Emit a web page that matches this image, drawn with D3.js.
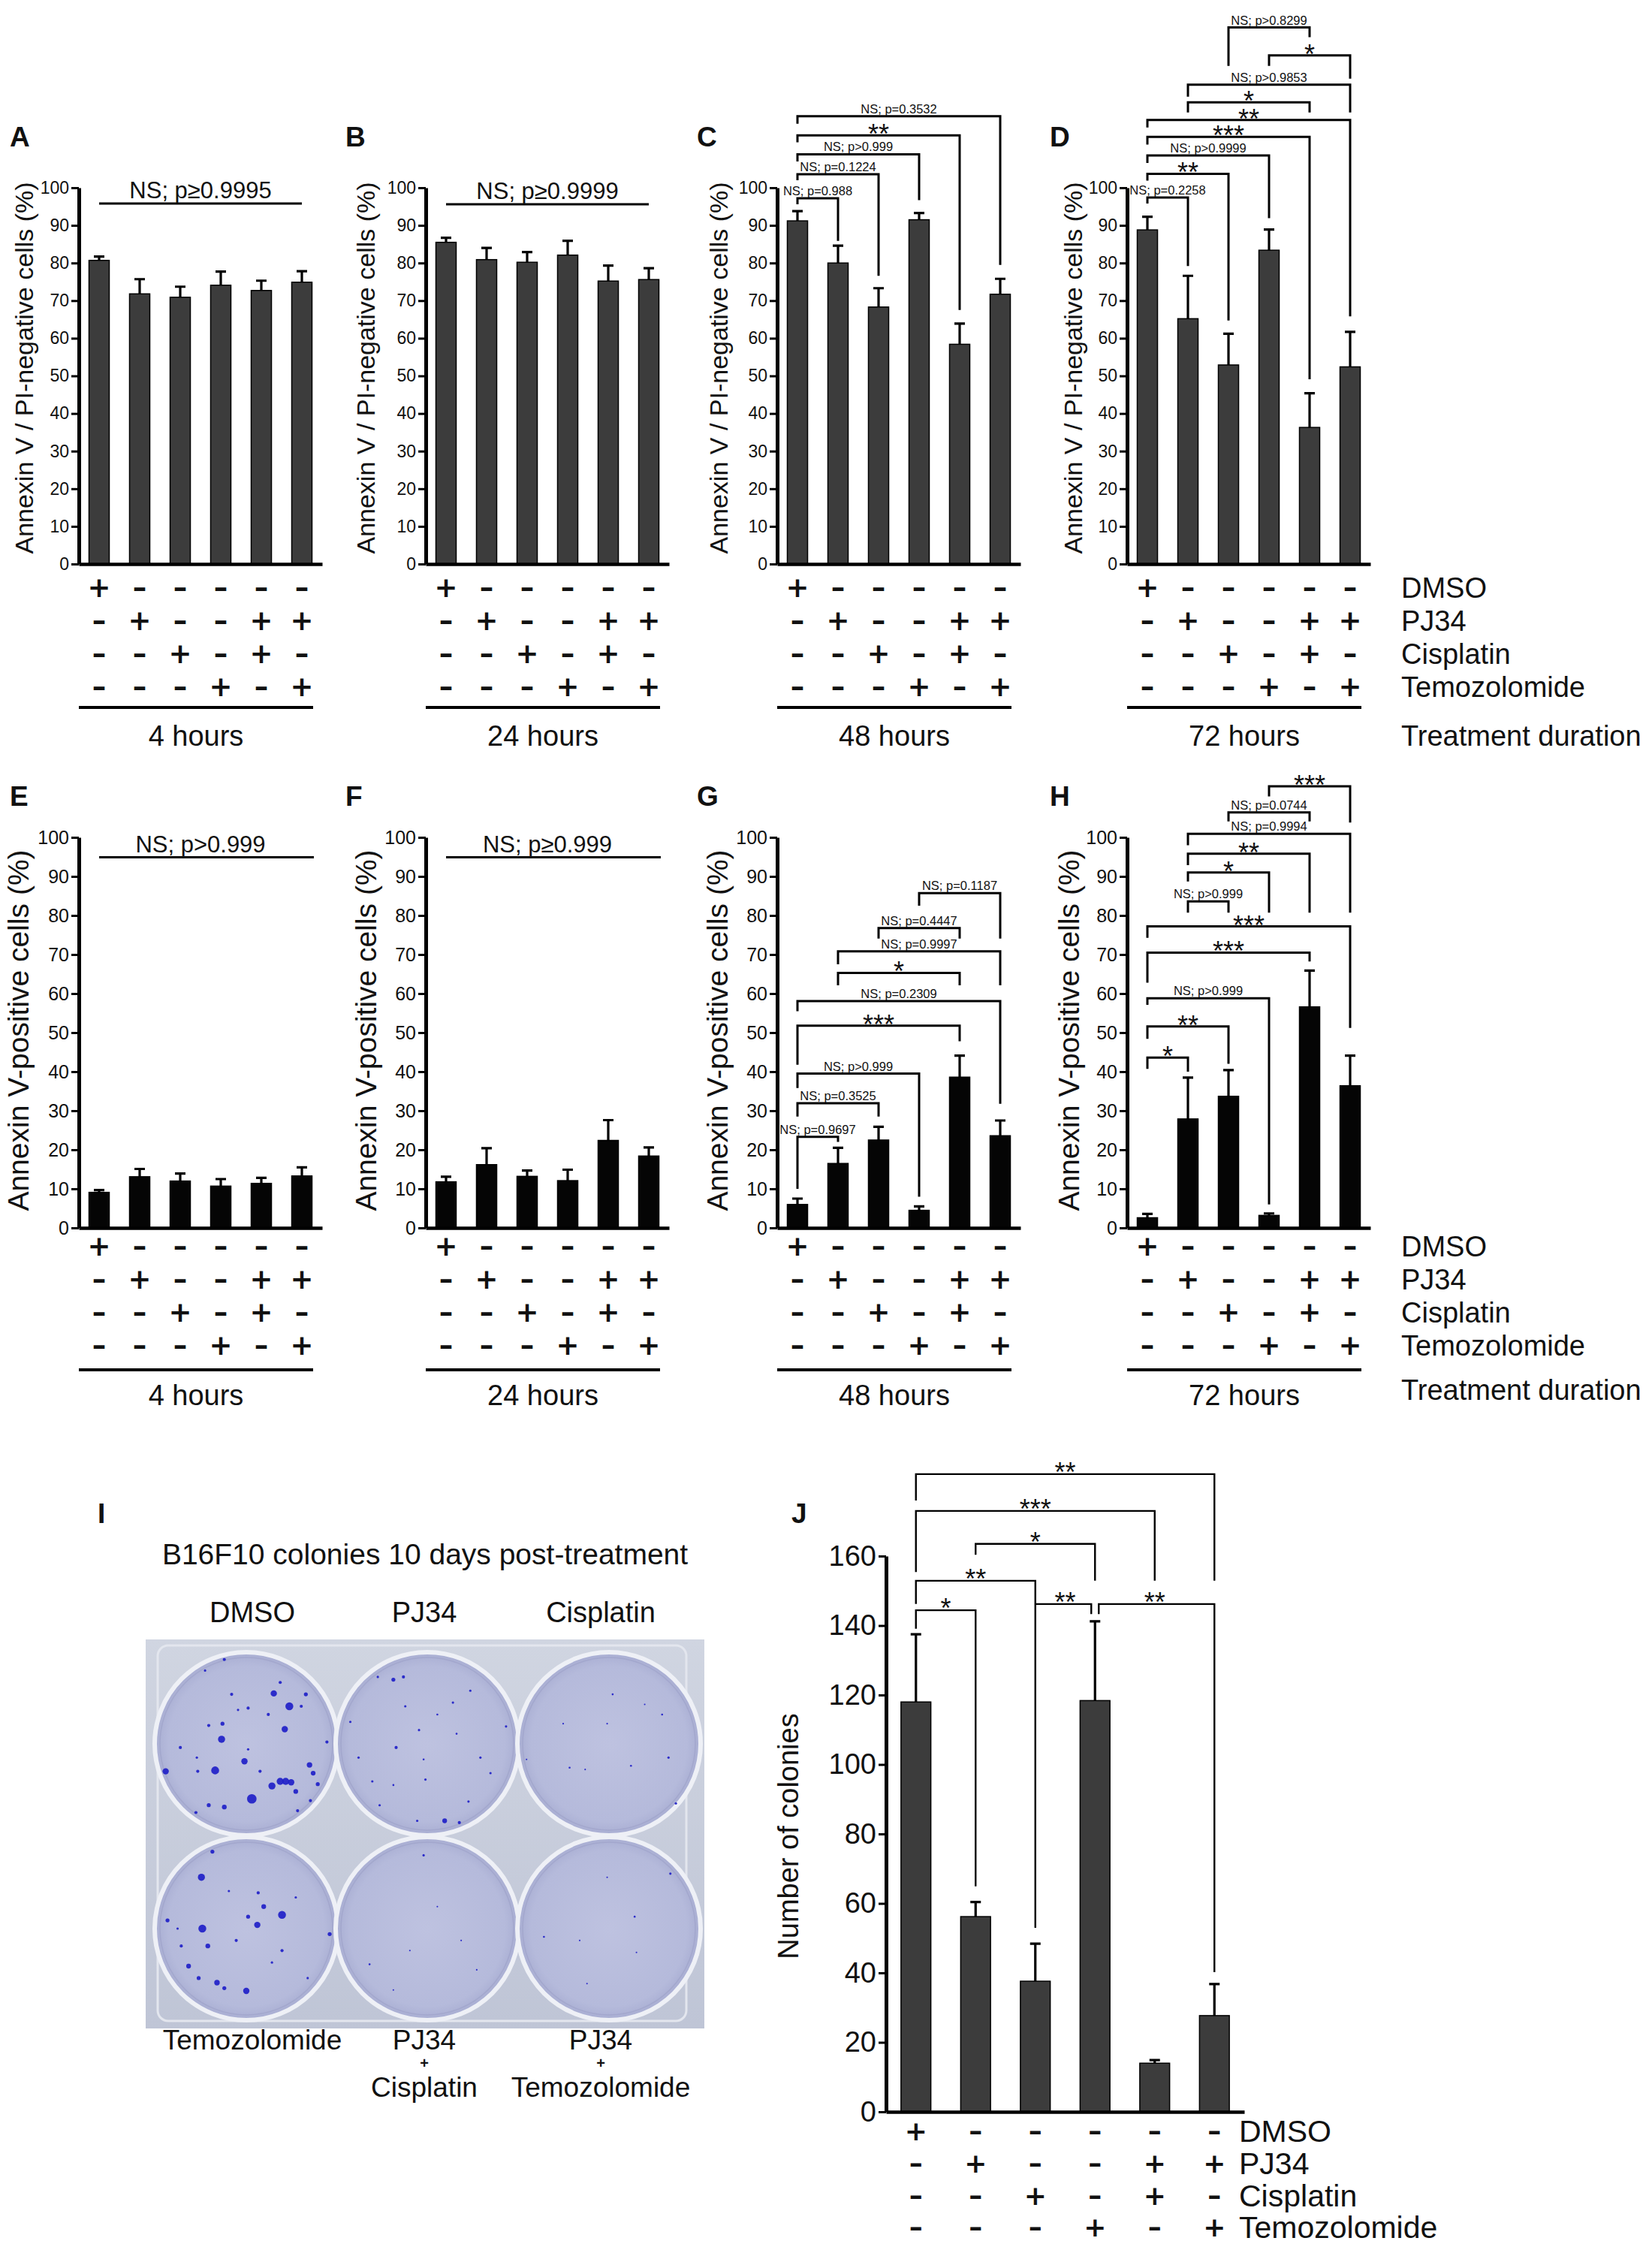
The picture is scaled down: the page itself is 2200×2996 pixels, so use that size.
<!DOCTYPE html>
<html>
<head>
<meta charset="utf-8">
<script src="https://cdn.jsdelivr.net/npm/d3@7"></script>
<style>
  body { margin: 0; background: #fff; }
  text { font-family: "Liberation Sans", Arial, sans-serif; fill: #111; }
</style>
</head>
<body>
<div id="figure"></div>
<script>
// ---------------- data ----------------
var treatments = ["DMSO", "PJ34", "Cisplatin", "Temozolomide"];
var signs = [
  [1, 0, 0, 0, 0, 0],
  [0, 1, 0, 0, 1, 1],
  [0, 0, 1, 0, 1, 0],
  [0, 0, 0, 1, 0, 1]
];
var groups = [0, 1, 2, 3, 4, 5];
var pctTicks = [0, 10, 20, 30, 40, 50, 60, 70, 80, 90, 100];
var colonyTicks = [0, 20, 40, 60, 80, 100, 120, 140, 160];
var durations = ["4 hours", "24 hours", "48 hours", "72 hours"];

// Annexin V / PI-negative (viable) cells, %
var viable4h = [80.7, 71.8, 70.9, 74.1, 72.7, 74.9];
var viable4hErr = [1.0, 3.9, 2.8, 3.6, 2.6, 2.9];
var viable24h = [85.5, 80.9, 80.2, 82.1, 75.2, 75.6];
var viable24hErr = [1.2, 3.1, 2.7, 3.8, 4.1, 3.0];
var viable48h = [91.2, 80.0, 68.3, 91.5, 58.4, 71.7];
var viable48hErr = [2.6, 4.6, 5.0, 1.8, 5.5, 4.1];
var viable72h = [88.8, 65.2, 52.9, 83.4, 36.3, 52.4];
var viable72hErr = [3.5, 11.4, 8.3, 5.5, 9.1, 9.3];

// Annexin V-positive cells, %
var apoptotic4h = [9.1, 13.1, 12.0, 10.7, 11.4, 13.3];
var apoptotic4hErr = [0.6, 2.0, 1.9, 1.8, 1.4, 2.2];
var apoptotic24h = [11.8, 16.2, 13.2, 12.1, 22.4, 18.4];
var apoptotic24hErr = [1.3, 4.2, 1.5, 2.8, 5.2, 2.2];
var apoptotic48h = [6.0, 16.5, 22.5, 4.5, 38.6, 23.6];
var apoptotic48hErr = [1.5, 4.0, 3.4, 1.0, 5.5, 3.9];
var apoptotic72h = [2.6, 27.9, 33.7, 3.2, 56.6, 36.4];
var apoptotic72hErr = [1.0, 10.6, 6.7, 0.5, 9.3, 7.7];

// colonies 10 days post-treatment
var colonies = [118, 56.2, 37.6, 118.4, 14, 27.7];
var coloniesErr = [19.5, 4.2, 10.8, 22.8, 0.9, 9.1];

// single NS lines (value where the line sits, label)
var ns4hViable = { y: 95.8, label: "NS; p\u22650.9995" };
var ns24hViable = { y: 95.6, label: "NS; p\u22650.9999" };
var ns4hApoptotic = { y: 94.9, label: "NS; p>0.999" };
var ns24hApoptotic = { y: 94.9, label: "NS; p\u22650.999" };

// brackets: from/to = group index, y = bar height, left/right = leg ends (all in data units)
var brackets48hViable = [
  { from: 0, to: 1, y: 97.2, left: 95.6, right: 85.9, label: "NS; p=0.988" },
  { from: 0, to: 2, y: 103.6, left: 102.0, right: 76.6, label: "NS; p=0.1224" },
  { from: 0, to: 3, y: 108.9, left: 107.0, right: 96.7, label: "NS; p>0.999" },
  { from: 0, to: 4, y: 113.9, left: 112.1, right: 67.5, label: "**" },
  { from: 0, to: 5, y: 119.0, left: 117.0, right: 79.5, label: "NS; p=0.3532" }
];
var brackets72hViable = [
  { from: 0, to: 1, y: 97.4, left: 95.8, right: 79.2, label: "NS; p=0.2258" },
  { from: 0, to: 2, y: 103.7, left: 101.9, right: 64.7, label: "**" },
  { from: 0, to: 3, y: 108.6, left: 106.6, right: 91.9, label: "NS; p>0.9999" },
  { from: 0, to: 4, y: 113.5, left: 111.5, right: 49.1, label: "***" },
  { from: 0, to: 5, y: 118.0, left: 116.0, right: 65.8, label: "**" },
  { from: 1, to: 4, y: 122.7, left: 120.0, right: 120.0, label: "*" },
  { from: 1, to: 5, y: 127.4, left: 124.2, right: 120.0, label: "NS; p>0.9853" },
  { from: 3, to: 5, y: 135.2, left: 132.4, right: 129.0, label: "*" },
  { from: 2, to: 4, y: 142.6, left: 132.4, right: 140.0, label: "NS; p>0.8299" }
];
var brackets48hApoptotic = [
  { from: 0, to: 1, y: 23.3, left: 10.0, right: 22.0, label: "NS; p=0.9697" },
  { from: 0, to: 2, y: 31.9, left: 28.5, right: 28.5, label: "NS; p=0.3525" },
  { from: 0, to: 3, y: 39.5, left: 35.8, right: 8.0, label: "NS; p>0.999" },
  { from: 0, to: 4, y: 51.8, left: 41.8, right: 47.8, label: "***" },
  { from: 0, to: 5, y: 58.1, left: 55.5, right: 31.8, label: "NS; p=0.2309" },
  { from: 1, to: 4, y: 65.3, left: 62.1, right: 62.1, label: "*" },
  { from: 1, to: 5, y: 70.8, left: 67.5, right: 62.1, label: "NS; p=0.9997" },
  { from: 2, to: 4, y: 76.8, left: 74.1, right: 74.1, label: "NS; p=0.4447" },
  { from: 3, to: 5, y: 85.7, left: 82.5, right: 74.1, label: "NS; p=0.1187" }
];
var brackets72hApoptotic = [
  { from: 0, to: 1, y: 43.6, left: 40.7, right: 40.0, label: "*" },
  { from: 0, to: 2, y: 51.6, left: 48.4, right: 42.0, label: "**" },
  { from: 0, to: 3, y: 58.8, left: 57.1, right: 6.0, label: "NS; p>0.999" },
  { from: 0, to: 4, y: 70.5, left: 62.8, right: 68.2, label: "***" },
  { from: 0, to: 5, y: 77.2, left: 74.3, right: 51.2, label: "***" },
  { from: 1, to: 2, y: 83.6, left: 80.7, right: 80.7, label: "NS; p>0.999" },
  { from: 1, to: 3, y: 91.0, left: 88.7, right: 80.7, label: "*" },
  { from: 1, to: 4, y: 95.8, left: 92.9, right: 80.7, label: "**" },
  { from: 1, to: 5, y: 100.9, left: 98.0, right: 80.7, label: "NS; p=0.9994" },
  { from: 2, to: 4, y: 106.4, left: 104.1, right: 104.1, label: "NS; p=0.0744" },
  { from: 3, to: 5, y: 113.1, left: 110.5, right: 103.8, label: "***" }
];
var bracketsColonies = [
  { from: 0, to: 1, y: 144.4, left: 139.1, right: 64.9, label: "*" },
  { from: 0, to: 2, y: 152.9, left: 146.2, right: 53.0, label: "**" },
  { from: 2, to: 3, y: 146.2, left: 146.2, right: 143.3, label: "**" },
  { from: 3, to: 5, y: 146.2, left: 143.3, right: 40.2, label: "**" },
  { from: 1, to: 3, y: 163.5, left: 160.4, right: 152.9, label: "*" },
  { from: 0, to: 4, y: 173.0, left: 155.4, right: 152.9, label: "***" },
  { from: 0, to: 5, y: 183.6, left: 176.0, right: 152.9, label: "**" }
];

// colony plate photo (I): well labels and colonies [dx, dy, size] relative to the well
var wellLabelsTop = ["DMSO", "PJ34", "Cisplatin"];
var wellLabelsBottom = [["Temozolomide"], ["PJ34", "+", "Cisplatin"], ["PJ34", "+", "Temozolomide"]];
var coloniesDMSO = [[0.47,-0.41,10],[0.42,-0.16,8],[-0.27,-0.05,9],[-0.02,0.19,8],[-0.34,0.29,10],[0.06,0.60,12],
  [0.28,0.46,9],[0.37,0.41,9],[0.43,0.41,9],[0.49,0.42,8],[0.54,0.52,6],[0.69,0.23,7],[0.73,0.32,6],[0.78,0.44,5],
  [-0.88,0.30,8],[-0.24,0.69,6],[-0.41,0.67,5],[-0.16,-0.54,4],[0.37,-0.67,4],[0.65,-0.54,5],[0.30,-0.55,8],
  [0.24,-0.32,4],[0.15,0.30,4],[-0.09,-0.37,3],[-0.41,-0.20,4],[-0.26,-0.22,5],[-0.72,0.04,4],[-0.53,0.30,4],
  [-0.24,-0.92,4],[-0.45,-0.80,3],[0.02,-0.39,4],[0.60,-0.41,4],[0.88,-0.02,4],[0.70,0.62,4],[-0.55,0.75,4],
  [0.56,0.73,4],[0.02,0.06,3],[-0.54,0.15,3]];
var coloniesPJ34 = [[-0.37,-0.70,5],[-0.26,-0.73,4],[-0.54,-0.73,3],[0.47,-0.58,3],[-0.34,0.04,4],[-0.09,-0.15,3],
  [0.19,0.84,6],[0.35,0.86,4],[-0.60,0.41,3],[-0.75,0.15,3],[0.69,0.32,3],[0.45,0.63,3],[-0.02,0.39,3],
  [0.28,-0.45,3],[-0.84,-0.24,3],[0.86,-0.19,3],[-0.11,0.84,3],[-0.04,0.17,2.5],[0.58,0.15,3],[-0.52,0.67,3],
  [-0.24,-0.41,3],[0.11,-0.32,2.5],[-0.37,0.45,2.5],[0.32,-0.11,2.5]];
var coloniesCisplatin = [[0.04,-0.54,2.5],[0.58,-0.32,2.5],[-0.50,-0.22,2],[-0.43,0.26,2.5],[0.24,0.24,2.5],
  [0.65,0.15,3],[0.73,0.65,3],[-0.90,0.17,2],[-0.02,-0.22,2],[-0.26,0.28,2],[0.39,-0.43,2]];
var coloniesTemozolomide = [[-0.48,0,10],[-0.49,-0.56,9],[0.39,-0.15,10],[0.12,-0.04,8],[0.19,-0.24,6],[0,0.68,8],
  [-0.32,0.59,7],[-0.42,0.19,6],[0.91,0.06,5],[0.13,-0.39,4],[0.39,0.24,4],[-0.37,-0.84,5],[-0.86,-0.09,5],
  [-0.71,0.19,4],[-0.63,0.41,6],[-0.52,0.54,5],[-0.24,0.65,5],[0.02,-0.13,5],[-0.11,0.13,4],[0.54,-0.34,3],
  [-0.75,0,3],[0.28,0.37,3],[-0.19,-0.41,3],[0.67,0.54,3]];
var coloniesPJ34Cis = [[-0.04,-0.80,3],[-0.63,0.39,2.5],[0.37,0.13,2],[-0.19,0.24,2],[0.11,-0.24,2],[-0.37,0.67,2],[0.54,0.45,2]];
var coloniesPJ34Tmz = [[0.28,-0.13,2.5],[0.67,-0.60,3],[-0.32,0.13,2],[-0.71,0.09,2.5],[0.30,0.26,2],[-0.24,0.60,2],[-0.02,-0.56,2]];

// ---------------- drawing ----------------
var narrow = '"Liberation Sans Narrow", "Liberation Sans", Arial, sans-serif';
var signFamily = '"DejaVu Sans", "Liberation Sans", sans-serif';

var svg = d3.select("#figure")
            .append("svg")
            .attr("width", 2200)
            .attr("height", 2996)
            .attr("viewBox", "0 0 2200 2996");

svg.append("rect").attr("width", 2200).attr("height", 2996).attr("fill", "#fff");

function isStars(label) { return /^\*+$/.test(label); }

function drawPanel(p) {
  var g = svg.append("g");

  var x = d3.scaleBand()
            .domain(groups)
            .range([p.left, p.left + 6 * p.step])
            .paddingInner(0.5)
            .paddingOuter(0.25);
  var cx = function(i) { return x(i) + x.bandwidth() / 2; };

  var y = d3.scaleLinear()
            .domain([0, p.max])
            .range([p.bottom, p.top]);

  // bars
  g.selectAll(null)
    .data(p.values)
    .enter()
    .append("rect")
      .attr("x", function(d, i) { return x(i); })
      .attr("y", function(d) { return y(d); })
      .attr("width", x.bandwidth())
      .attr("height", function(d) { return y(0) - y(d); })
      .attr("fill", p.fill)
      .attr("stroke", "#000")
      .attr("stroke-width", 1.5);

  // error bars, upper half only
  g.selectAll(null)
    .data(p.values)
    .enter()
    .append("path")
      .attr("d", function(d, i) {
        var c = cx(i), t = y(d + p.errors[i]);
        return "M" + c + "," + y(d) + "V" + t + "M" + (c - 7) + "," + t + "H" + (c + 7);
      })
      .attr("stroke", "#000")
      .attr("stroke-width", 3.2)
      .attr("fill", "none");

  // Add Y axis
  var yAxis = g.append("g")
    .attr("transform", "translate(" + p.left + ",0)")
    .call(d3.axisLeft(y).tickValues(p.ticks).tickSize(10).tickSizeOuter(0).tickPadding(3));
  yAxis.select(".domain").attr("stroke-width", 5);
  yAxis.selectAll(".tick line").attr("stroke-width", 3);
  yAxis.selectAll(".tick text")
    .attr("fill", "#111")
    .style("font-size", p.tickFont + "px")
    .style("font-family", p.tickFamily || null);

  // Add X axis (line only)
  var xAxis = g.append("g")
    .attr("transform", "translate(0," + y(0) + ")")
    .call(d3.axisBottom(x).tickValues([]).tickSizeOuter(0));
  xAxis.select(".domain").attr("stroke-width", 4.5);

  // text label for the y axis
  g.append("text")
    .attr("transform", "translate(" + p.titleX + "," + p.titleY + ") rotate(-90)")
    .attr("text-anchor", "middle")
    .attr("dominant-baseline", "central")
    .style("font-size", p.titleFont + "px")
    .text(p.title);

  // panel letter
  g.append("text")
    .attr("x", p.letterX)
    .attr("y", p.letterY)
    .style("font-size", "37px")
    .style("font-weight", "bold")
    .text(p.letter);

  // one NS line over all groups
  if (p.ns) {
    g.append("line")
      .attr("x1", cx(0)).attr("x2", cx(5) + (p.nsExtend || 0))
      .attr("y1", y(p.ns.y)).attr("y2", y(p.ns.y))
      .attr("stroke", "#000").attr("stroke-width", 3);
    g.append("text")
      .attr("x", (cx(0) + cx(5)) / 2)
      .attr("y", y(p.ns.y) - 7)
      .attr("text-anchor", "middle")
      .style("font-size", "31px")
      .text(p.ns.label);
  }

  // comparison brackets
  if (p.brackets) {
    var nudge = function(b, side) {
      var idx = side === "from" ? b.from : b.to;
      var hit = p.brackets.some(function(o) {
        return o !== b && o.y === b.y && (side === "from" ? o.to : o.from) === idx;
      });
      return hit ? (side === "from" ? 5 : -5) : 0;
    };
    g.selectAll(null)
      .data(p.brackets)
      .enter()
      .append("path")
        .attr("d", function(b) {
          var xa = cx(b.from) + nudge(b, "from"), xb = cx(b.to) + nudge(b, "to");
          return "M" + xa + "," + y(b.left) + "V" + y(b.y) + "H" + xb + "V" + y(b.right);
        })
        .attr("fill", "none")
        .attr("stroke", "#000")
        .attr("stroke-width", p.bracketWidth);
    g.selectAll(null)
      .data(p.brackets)
      .enter()
      .append("text")
        .attr("x", function(b) { return (cx(b.from) + cx(b.to)) / 2; })
        .attr("y", function(b) { return isStars(b.label) ? y(b.y) + p.starDy : y(b.y) - 4; })
        .attr("text-anchor", "middle")
        .style("font-size", function(b) { return (isStars(b.label) ? p.starFont : p.nsFont) + "px"; })
        .text(function(b) { return b.label; });
  }

  // treatment +/- table, one text per group column
  g.selectAll(null)
    .data(groups)
    .enter()
    .append("text")
      .attr("text-anchor", "middle")
      .style("font-size", p.signFont + "px")
      .style("font-family", signFamily)
      .style("font-weight", "bold")
      .each(function(i) {
        var col = d3.select(this);
        treatments.forEach(function(t, r) {
          var on = signs[r][i];
          col.append("tspan")
            .attr("x", cx(i))
            .attr("y", p.signY[r] + 0.33 * p.signFont)
            .text(on ? "+" : "\u2013");
        });
      });

  // treatment duration
  if (p.duration) {
    g.append("line")
      .attr("x1", p.left).attr("x2", p.left + 6 * p.step - 12)
      .attr("y1", p.underlineY).attr("y2", p.underlineY)
      .attr("stroke", "#000").attr("stroke-width", 4);
    g.append("text")
      .attr("x", p.left + 3 * p.step - 6)
      .attr("y", p.durationY)
      .attr("text-anchor", "middle")
      .attr("dominant-baseline", "central")
      .style("font-size", "38px")
      .text(p.duration);
  }
}

function rowLabels(xPos, ys, extra, extraY, size, family) {
  treatments.forEach(function(t, r) {
    svg.append("text")
      .attr("x", xPos).attr("y", ys[r])
      .attr("dominant-baseline", "central")
      .style("font-size", size + "px")
      .style("font-family", family || null)
      .text(t);
  });
  if (extra) {
    svg.append("text")
      .attr("x", xPos).attr("y", extraY)
      .attr("dominant-baseline", "central")
      .style("font-size", size + "px")
      .text(extra);
  }
}

// ---- rows 1 and 2 ----
var panelLefts = [105, 567, 1035, 1501];
var letterXs = [13, 460, 928, 1398];
var titleXs = [32, 487, 957, 1429];
var titleXs2 = [24, 487, 955, 1423];

var viable = [viable4h, viable24h, viable48h, viable72h];
var viableErr = [viable4hErr, viable24hErr, viable48hErr, viable72hErr];
var apoptotic = [apoptotic4h, apoptotic24h, apoptotic48h, apoptotic72h];
var apoptoticErr = [apoptotic4hErr, apoptotic24hErr, apoptotic48hErr, apoptotic72hErr];

var row1Ns = [ns4hViable, ns24hViable, null, null];
var row1Brackets = [null, null, brackets48hViable, brackets72hViable];
var row2Ns = [ns4hApoptotic, ns24hApoptotic, null, null];
var row2Brackets = [null, null, brackets48hApoptotic, brackets72hApoptotic];

for (var k = 0; k < 4; k++) {
  drawPanel({
    left: panelLefts[k], step: 54, top: 250, bottom: 751, max: 100, ticks: pctTicks,
    values: viable[k], errors: viableErr[k], fill: "#3c3c3c",
    tickFont: 23, title: "Annexin V / PI-negative cells (%)", titleX: titleXs[k], titleY: 490, titleFont: 34,
    letter: "ABCD"[k], letterX: letterXs[k], letterY: 195,
    ns: row1Ns[k], nsExtend: 0, brackets: row1Brackets[k], bracketWidth: 3, nsFont: 16.5, starFont: 36, starDy: 11,
    signY: [783, 827, 871, 915], signFont: 37,
    duration: durations[k], underlineY: 942, durationY: 980
  });
  drawPanel({
    left: panelLefts[k], step: 54, top: 1115, bottom: 1635, max: 100, ticks: pctTicks,
    values: apoptotic[k], errors: apoptoticErr[k], fill: "#050505",
    tickFont: 25, title: "Annexin V-positive cells (%)", titleX: titleXs2[k], titleY: 1372, titleFont: 39,
    letter: "EFGH"[k], letterX: letterXs[k], letterY: 1073,
    ns: row2Ns[k], nsExtend: 16, brackets: row2Brackets[k], bracketWidth: 3, nsFont: 16.5, starFont: 36, starDy: 11,
    signY: [1660, 1704, 1748, 1792], signFont: 37,
    duration: durations[k], underlineY: 1824, durationY: 1858
  });
}
rowLabels(1866, [783, 827, 871, 915], "Treatment duration", 980, 38);
rowLabels(1866, [1660, 1704, 1748, 1792], "Treatment duration", 1851, 38);

// ---- J: colonies ----
var coloniesSignY = [2838, 2881, 2924, 2966];
drawPanel({
  left: 1180, step: 79.5, top: 2072, bottom: 2812, max: 160, ticks: colonyTicks,
  values: colonies, errors: coloniesErr, fill: "#3c3c3c",
  tickFont: 38, tickFamily: narrow, title: "Number of colonies", titleX: 1050, titleY: 2445, titleFont: 38,
  letter: "J", letterX: 1054, letterY: 2028,
  ns: null, brackets: bracketsColonies, bracketWidth: 2.4, nsFont: 16, starFont: 36, starDy: 10,
  signY: coloniesSignY, signFont: 36,
  duration: null
});
rowLabels(1650, coloniesSignY, null, 0, 41, narrow);

// ---- I: colony plate ----
var plateX = 194, plateY = 2183, plateW = 744, plateH = 518, wellR = 122;
var wellCols = [134, 375, 617], wellRows = [139, 385];
var wellColonies = [coloniesDMSO, coloniesPJ34, coloniesCisplatin, coloniesTemozolomide, coloniesPJ34Cis, coloniesPJ34Tmz];

var defs = svg.append("defs");
var plateGrad = defs.append("linearGradient").attr("id", "plateGrad").attr("x1", 0).attr("y1", 0).attr("x2", 0).attr("y2", 1);
plateGrad.append("stop").attr("offset", "0%").attr("stop-color", "#d0d5e1");
plateGrad.append("stop").attr("offset", "100%").attr("stop-color", "#bfc5d6");
var wellGrad = defs.append("radialGradient").attr("id", "wellGrad");
wellGrad.append("stop").attr("offset", "0%").attr("stop-color", "#bec2e0");
wellGrad.append("stop").attr("offset", "85%").attr("stop-color", "#b5badb");
wellGrad.append("stop").attr("offset", "100%").attr("stop-color", "#a8add2");

svg.append("text").attr("x", 130).attr("y", 2028).style("font-size", "37px").style("font-weight", "bold").text("I");
svg.append("text").attr("x", 566).attr("y", 2069).attr("text-anchor", "middle").attr("dominant-baseline", "central")
  .style("font-size", "39px").text("B16F10 colonies 10 days post-treatment");

var plate = svg.append("g");
plate.append("rect")
  .attr("x", plateX).attr("y", plateY).attr("width", plateW).attr("height", plateH)
  .attr("fill", "url(#plateGrad)");
plate.append("rect")
  .attr("x", plateX + 16).attr("y", plateY + 8).attr("width", plateW - 40).attr("height", plateH - 18)
  .attr("rx", 14)
  .attr("fill", "none").attr("stroke", "#e3e6ee").attr("stroke-width", 3);

wellColonies.forEach(function(list, w) {
  var wx = plateX + wellCols[w % 3], wy = plateY + wellRows[Math.floor(w / 3)];
  plate.append("circle")
    .attr("cx", wx).attr("cy", wy).attr("r", wellR)
    .attr("fill", "url(#wellGrad)")
    .attr("stroke", "#eef0f6").attr("stroke-width", 6);
  plate.append("circle")
    .attr("cx", wx).attr("cy", wy).attr("r", wellR - 7)
    .attr("fill", "none")
    .attr("stroke", "#9ea3c9").attr("stroke-width", 1.5).attr("stroke-opacity", 0.7);
  plate.selectAll(null)
    .data(list)
    .enter()
    .append("circle")
      .attr("cx", function(d) { return wx + d[0] * wellR; })
      .attr("cy", function(d) { return wy + d[1] * wellR; })
      .attr("r", function(d) { return d[2] * wellR / 232; })
      .attr("fill", "#2020c8")
      .attr("fill-opacity", 0.92);
});

var labelXs = [336, 565, 800];
wellLabelsTop.forEach(function(t, i) {
  svg.append("text").attr("x", labelXs[i]).attr("y", 2147).attr("text-anchor", "middle")
    .attr("dominant-baseline", "central").style("font-size", "38px").text(t);
});
var bottomLineYs = [2716, 2747, 2779];
wellLabelsBottom.forEach(function(lines, i) {
  lines.forEach(function(t, j) {
    svg.append("text").attr("x", labelXs[i]).attr("y", bottomLineYs[j]).attr("text-anchor", "middle")
      .attr("dominant-baseline", "central")
      .style("font-size", t === "+" ? "20px" : "37px")
      .style("font-weight", t === "+" ? "bold" : null)
      .text(t);
  });
});
</script>
</body>
</html>
